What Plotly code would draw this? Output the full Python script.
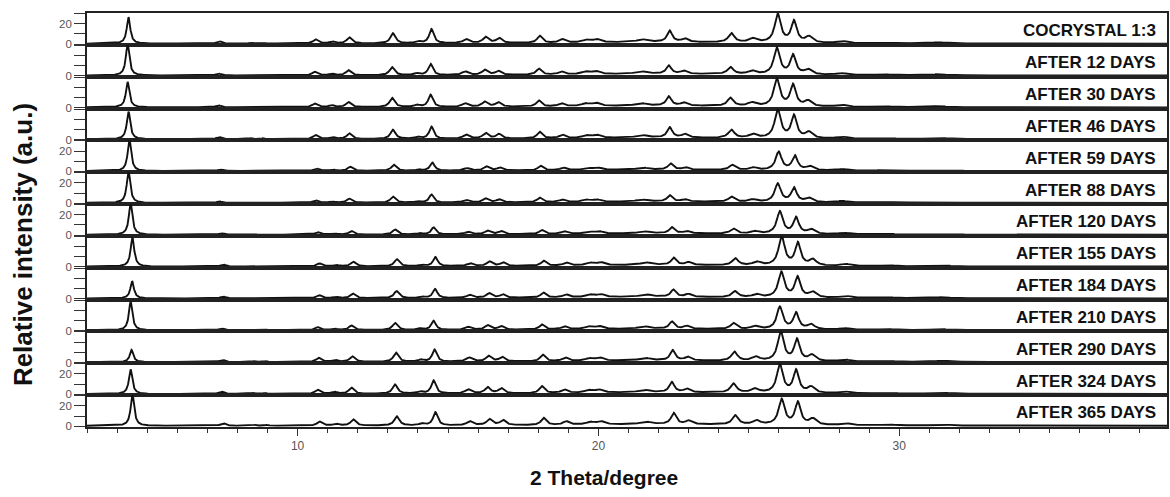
import numpy as np
import plotly.graph_objects as go
from plotly.subplots import make_subplots

# Sample names, top to bottom
SAMPLES = [
    "COCRYSTAL 1:3", "AFTER 12 DAYS", "AFTER 30 DAYS", "AFTER 46 DAYS",
    "AFTER 59 DAYS", "AFTER 88 DAYS", "AFTER 120 DAYS", "AFTER 155 DAYS",
    "AFTER 184 DAYS", "AFTER 210 DAYS", "AFTER 290 DAYS", "AFTER 324 DAYS",
    "AFTER 365 DAYS",
]

# Reflection positions (2θ, degrees) and half widths
PEAK_POS = [4.38, 7.40, 8.45, 8.85, 10.60, 11.15, 11.72, 13.17, 14.00, 14.45,
            15.60, 16.25, 16.70, 18.05, 18.80, 19.60, 19.95, 21.45, 22.37, 22.87,
            24.42, 25.13, 25.96, 26.50, 27.00, 28.10, 29.50, 31.30]
PEAK_HW = [0.07, 0.10, 0.08, 0.08, 0.10, 0.10, 0.10, 0.10, 0.10, 0.09,
           0.12, 0.11, 0.11, 0.10, 0.12, 0.15, 0.15, 0.20, 0.10, 0.12,
           0.12, 0.15, 0.12, 0.11, 0.14, 0.20, 0.25, 0.30]

# Peak intensities for each sample (same order as PEAK_POS)
INTENSITY = [
    [26, 2.5, 0.8, 0.8, 4.0, 2.0, 6.0, 10, 2.0, 14, 4.0, 6.0, 5.0, 7.0, 3.5, 2.5, 3.0, 2.5, 11, 3.5, 9, 4.0, 28, 21, 6.0, 2.0, 1.0, 1.2],
    [31, 2.0, 0.7, 0.7, 3.5, 1.7, 5.0, 8, 1.8, 11, 3.5, 5.0, 4.0, 6.0, 3.0, 2.5, 3.0, 2.5, 8, 3.0, 7, 3.5, 26, 19, 5.0, 1.8, 1.0, 1.0],
    [25, 2.0, 0.7, 0.7, 3.5, 2.0, 5.0, 9, 2.0, 12, 3.5, 5.0, 4.5, 6.0, 3.0, 2.5, 3.0, 2.5, 9, 3.0, 8, 3.5, 27, 21, 5.5, 2.0, 1.0, 1.0],
    [27, 2.2, 0.8, 0.8, 4.0, 2.0, 5.5, 9, 2.0, 12, 4.0, 5.5, 4.5, 6.5, 3.5, 2.5, 3.0, 2.5, 10, 3.5, 8, 4.0, 28, 22, 6.0, 2.0, 1.0, 1.2],
    [31, 1.5, 0.5, 0.5, 2.5, 1.3, 4.0, 6, 1.3, 8, 2.5, 4.0, 3.0, 4.5, 2.5, 2.0, 2.2, 2.0, 6, 2.3, 5, 2.5, 18, 14, 4.0, 1.5, 0.8, 0.8],
    [31, 1.5, 0.5, 0.5, 2.5, 1.3, 4.0, 6, 1.3, 8, 2.5, 4.0, 3.0, 4.5, 2.5, 2.0, 2.2, 2.0, 6, 2.3, 5, 2.5, 18, 14, 4.0, 1.5, 0.8, 0.8],
    [31, 1.5, 0.5, 0.5, 2.5, 1.2, 3.5, 5, 1.2, 7, 2.5, 3.5, 3.0, 4.0, 2.5, 2.0, 2.2, 2.0, 6, 2.3, 5, 2.5, 22, 16, 4.5, 1.5, 0.8, 0.8],
    [29, 2.0, 0.6, 0.6, 3.0, 1.5, 4.5, 7, 1.5, 9, 3.0, 4.5, 3.5, 5.0, 3.0, 2.5, 2.8, 2.5, 7, 2.8, 7, 3.5, 29, 22, 6.0, 2.0, 1.0, 1.0],
    [17, 1.8, 0.6, 0.6, 3.0, 1.5, 4.5, 7, 1.5, 9, 3.0, 4.5, 3.5, 5.0, 3.0, 2.5, 2.8, 2.5, 7, 2.8, 6, 3.0, 25, 20, 5.5, 2.0, 1.0, 1.0],
    [28, 1.8, 0.6, 0.6, 3.0, 1.5, 4.5, 7, 1.5, 9, 3.0, 4.5, 3.5, 5.0, 3.0, 2.5, 2.8, 2.5, 7, 2.8, 6, 3.0, 22, 16, 5.0, 1.8, 1.0, 1.0],
    [12, 2.2, 0.8, 0.8, 4.0, 2.0, 5.5, 9, 2.0, 12, 4.0, 5.5, 4.5, 6.5, 3.5, 2.5, 3.0, 2.5, 10, 3.5, 9, 4.0, 29, 21, 6.0, 2.0, 1.0, 1.2],
    [24, 2.5, 0.8, 0.8, 4.0, 2.0, 6.0, 9, 2.0, 13, 4.0, 6.0, 5.0, 7.0, 3.5, 2.5, 3.0, 2.5, 10, 3.5, 9, 4.0, 28, 22, 6.0, 2.0, 1.0, 1.2],
    [31, 2.5, 0.8, 0.8, 4.0, 2.0, 6.0, 9, 2.0, 13, 4.0, 6.0, 5.0, 7.0, 3.5, 2.5, 3.0, 2.5, 11, 3.5, 9, 4.0, 25, 22, 6.0, 2.0, 1.0, 1.2],
]

# Small zero shift of each pattern (degrees)
SHIFT = [0.00, -0.03, -0.03, 0.00, 0.03, 0.00, 0.07, 0.13, 0.12, 0.07, 0.10, 0.07, 0.13]

# Broad amorphous background under 19-27°
HALO_POS, HALO_HW = 22.0, 3.5
HALO = [1.6, 1.7, 1.7, 1.6, 1.4, 1.4, 1.4, 1.6, 1.6, 1.5, 1.6, 1.6, 1.6]
BASE = 0.3

X_MIN, X_MAX = 3.0, 38.9
Y_MIN, Y_MAX = -0.8, 30.5

two_theta = np.arange(X_MIN, X_MAX + 0.005, 0.01)


def pattern(i):
    y = np.full_like(two_theta, BASE)
    y += HALO[i] / (1 + ((two_theta - HALO_POS) / HALO_HW) ** 2)
    for p, w, h in zip(PEAK_POS, PEAK_HW, INTENSITY[i]):
        y += h / (1 + ((two_theta - p - SHIFT[i]) / w) ** 2)
    return y


n = len(SAMPLES)
fig = make_subplots(rows=n, cols=1, shared_xaxes=True, vertical_spacing=0)

# panels whose y axis carries a "20" label
LABEL_20 = {0, 4, 5, 6, 11, 12}

axis_font = dict(family="Liberation Sans, Arial, sans-serif", size=11.5, color="#555")

for i in range(n):
    r = i + 1
    fig.add_trace(
        go.Scatter(x=two_theta, y=pattern(i), mode="lines",
                   line=dict(color="#111", width=1.9), showlegend=False,
                   hoverinfo="skip"),
        row=r, col=1,
    )
    fig.update_yaxes(
        row=r, col=1, range=[Y_MIN, Y_MAX], showgrid=False, zeroline=False,
        showline=True, mirror=True, linecolor="#222", linewidth=1.8,
        ticks="outside", ticklen=11, tickwidth=1, tickcolor="#333",
        tickvals=[0, 10, 20, 30],
        ticktext=["0", "", "20" if i in LABEL_20 else "", ""],
        tickfont=axis_font,
    )
    last = r == n
    fig.update_xaxes(
        row=r, col=1, range=[X_MIN, X_MAX], showgrid=False, zeroline=False,
        showline=True, mirror=True, linecolor="#222", linewidth=1.8,
        ticks="outside" if last else "", ticklen=7, tickwidth=1, tickcolor="#333",
        tick0=0, dtick=10, showticklabels=last,
        tickfont=dict(family="Liberation Sans, Arial, sans-serif",
                      size=12, color="#555"),
        minor=dict(dtick=1, ticks="outside" if last else "", ticklen=4,
                   tickcolor="#333", showgrid=False),
    )
    xref = "x domain" if r == 1 else f"x{r} domain"
    yref = "y domain" if r == 1 else f"y{r} domain"
    fig.add_annotation(
        text=SAMPLES[i], xref=xref, yref=yref, x=0.992, y=0.44,
        xanchor="right", yanchor="middle", showarrow=False,
        font=dict(family="Liberation Sans, Arial, sans-serif", size=17,
                  color="#111", weight="bold"),
    )

fig.add_annotation(
    text="Relative intensity (a.u.)", xref="paper", yref="paper",
    x=-0.059, y=0.44, xanchor="center", yanchor="middle", textangle=-90,
    showarrow=False,
    font=dict(family="Liberation Sans, Arial, sans-serif", size=26,
              color="#111", weight="bold"),
)
fig.add_annotation(
    text="2 Theta/degree", xref="paper", yref="paper",
    x=0.479, y=-0.123, xanchor="center", yanchor="middle", showarrow=False,
    font=dict(family="Liberation Sans, Arial, sans-serif",
              size=21, color="#111", weight="bold"),
)

fig.update_layout(
    width=1170, height=497,
    margin=dict(l=87, r=1, t=13, b=70),
    paper_bgcolor="white", plot_bgcolor="white",
)

fig.write_html("out.html")
